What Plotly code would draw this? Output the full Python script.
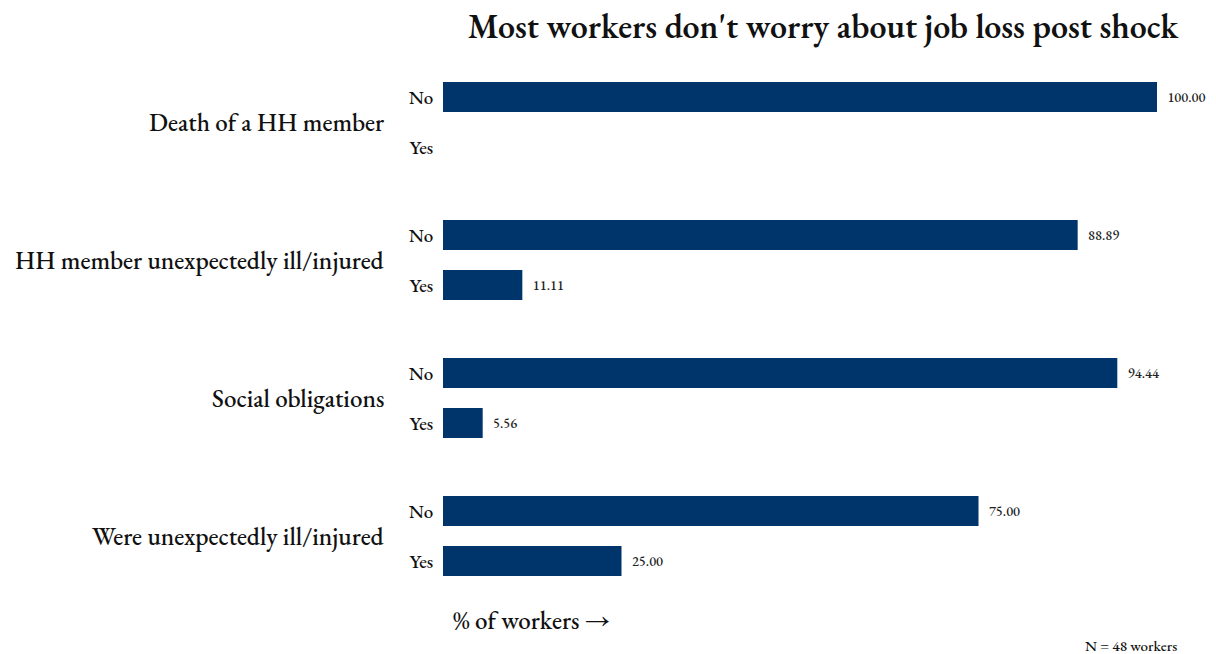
import plotly.graph_objects as go

# Shock categories and responses (% of workers)
shocks = [
    "Death of a HH member",
    "HH member unexpectedly ill/injured",
    "Social obligations",
    "Were unexpectedly ill/injured",
]
answers = ["No", "Yes"]
pct_no = [100.00, 88.89, 94.44, 75.00]
pct_yes = [None, 11.11, 5.56, 25.00]

FONT = "EB Garamond, Garamond, Liberation Serif, serif"
BAR = "#00356B"
INK = "#111111"
GROUP_STEP = 138   # vertical distance between shock groups (axis units)
ANSWER_STEP = 50   # distance between No and Yes rows

ys, xs, labels, texts = [], [], [], []
for i, _ in enumerate(shocks):
    for j, (ans, vals) in enumerate(zip(answers, [pct_no, pct_yes])):
        v = vals[i]
        ys.append(i * GROUP_STEP + j * ANSWER_STEP)
        xs.append(v)
        labels.append(ans)
        texts.append("" if v is None else f"\u2002{v:.2f}")

fig = go.Figure(
    go.Bar(
        x=xs,
        y=ys,
        orientation="h",
        width=30,
        marker=dict(color=BAR, line=dict(width=0)),
        text=texts,
        textposition="outside",
        textfont=dict(family=FONT, size=14, color="#222222", weight=500),
        cliponaxis=False,
        hoverinfo="skip",
    )
)

# Group labels to the left of the No/Yes ticks
for i, name in enumerate(shocks):
    fig.add_annotation(
        x=0, xref="paper",
        y=i * GROUP_STEP + ANSWER_STEP / 2, yref="y",
        text=name, showarrow=False,
        xanchor="right", yanchor="middle", xshift=-57,
        font=dict(family=FONT, size=25, color=INK, weight=500),
    )

fig.add_annotation(
    x=0, xref="paper", y=-0.045, yref="paper",
    text="% of workers →", showarrow=False,
    xanchor="left", yanchor="middle", xshift=8,
    font=dict(family=FONT, size=25, color=INK, weight=500),
)
fig.add_annotation(
    x=1.0, xref="paper", y=-0.0918, yref="paper",
    text="N = 48 workers", showarrow=False,
    xanchor="right", yanchor="middle", xshift=21, borderpad=0,
    font=dict(family=FONT, size=15, color=INK, weight=500),
)

fig.update_layout(
    width=1216, height=654,
    margin=dict(l=443, r=59, t=62, b=58),
    paper_bgcolor="white", plot_bgcolor="white",
    showlegend=False,
    title=dict(
        text="Most workers don't worry about job loss post shock",
        x=823 / 1216, xanchor="center", xref="container",
        y=1 - 26 / 654, yanchor="middle", yref="container",
        font=dict(family=FONT, size=34, color=INK, weight=600),
    ),
    xaxis=dict(range=[0, 100], showgrid=False, zeroline=False,
               showticklabels=False, showline=False, fixedrange=True),
    yaxis=dict(
        range=[499, -35], tickmode="array", tickvals=ys, ticktext=labels,
        showgrid=False, zeroline=False, showline=False,
        ticks="outside", ticklen=5, tickcolor="white",
        tickfont=dict(family=FONT, size=19, color=INK, weight=500),
        fixedrange=True,
    ),
)

fig.write_html("out.html")
